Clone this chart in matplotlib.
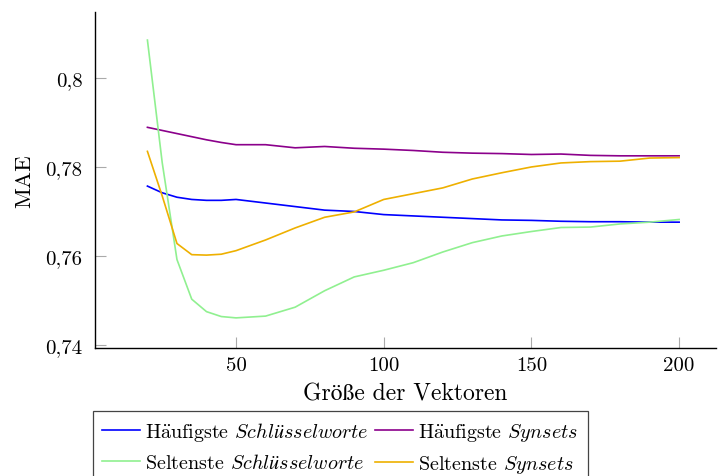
import matplotlib
matplotlib.use('Agg')
import matplotlib.pyplot as plt
from matplotlib.ticker import FuncFormatter

plt.rcParams['font.family'] = ['cmr10', 'STIXGeneral']
plt.rcParams['mathtext.fontset'] = 'cm'
plt.rcParams['axes.unicode_minus'] = False

# Vektorgrößen und MAE-Werte der vier Varianten
groesse = [20, 25, 30, 35, 40, 45, 50, 60, 70, 80, 90, 100, 110, 120, 130, 140, 150, 160, 170, 180, 190, 200]

haeufig_schluessel = [0.7757, 0.7742, 0.7732, 0.7727, 0.7725, 0.7725, 0.7727, 0.7719, 0.7711, 0.7703, 0.7700,
                      0.7693, 0.7690, 0.7687, 0.7684, 0.7681, 0.7680, 0.7678, 0.7677, 0.7677, 0.7676, 0.7676]
haeufig_synsets = [0.7889, 0.7882, 0.7875, 0.7868, 0.7861, 0.7855, 0.7850, 0.7850, 0.7843, 0.7846, 0.7842,
                   0.7840, 0.7837, 0.7833, 0.7831, 0.7830, 0.7828, 0.7829, 0.7826, 0.7825, 0.7825, 0.7825]
selten_schluessel = [0.8085, 0.7810, 0.7592, 0.7503, 0.7475, 0.7464, 0.7461, 0.7465, 0.7485, 0.7522, 0.7553,
                     0.7568, 0.7585, 0.7609, 0.7630, 0.7645, 0.7655, 0.7664, 0.7665, 0.7672, 0.7676, 0.7682]
selten_synsets = [0.7835, 0.7735, 0.7628, 0.7603, 0.7602, 0.7604, 0.7612, 0.7636, 0.7663, 0.7687, 0.7699,
                  0.7727, 0.7740, 0.7753, 0.7773, 0.7787, 0.7800, 0.7809, 0.7812, 0.7813, 0.7820, 0.7821]

# cmr10 hat kein ä, daher als Akzent im Mathemodus
haeufig = r'H$\ddot{\mathrm{a}}$ufigste'

fig = plt.figure(figsize=(7.18, 4.77), dpi=100)
ax = fig.add_axes([0.1323, 0.2683, 0.865, 0.7044])

lw = 1.2
l1, = ax.plot(groesse, haeufig_schluessel, color='#0000ff', lw=lw, label=haeufig + r' $\mathit{Schlüsselworte}$')
l2, = ax.plot(groesse, haeufig_synsets, color='#8b008b', lw=lw, label=haeufig + r' $\mathit{Synsets}$')
l3, = ax.plot(groesse, selten_schluessel, color='#90f090', lw=lw, label=r'Seltenste $\mathit{Schlüsselworte}$')
l4, = ax.plot(groesse, selten_synsets, color='#eeb000', lw=lw, label=r'Seltenste $\mathit{Synsets}$')

ax.set_xlim(2.25, 212.5)
ax.set_ylim(0.73933, 0.8148)
ax.set_xticks([50, 100, 150, 200])
ax.set_yticks([0.74, 0.76, 0.78, 0.8])
ax.yaxis.set_major_formatter(FuncFormatter(lambda v, p: f'{v:g}'.replace('.', ',')))

for s in ['top', 'right']:
    ax.spines[s].set_visible(False)
for s in ['left', 'bottom']:
    ax.spines[s].set_linewidth(1.0)
ax.tick_params(direction='in', length=8, width=0.8, color='#aaaaaa', labelsize=15)
ax.tick_params(axis='y', pad=9)
ax.tick_params(axis='x', pad=6)

ax.set_xlabel('Größe der Vektoren', fontsize=17, labelpad=6)
ax.set_ylabel('MAE', fontsize=16.5, labelpad=8)

# zeilenweise Reihenfolge: erst Häufigste, dann Seltenste
leg = fig.legend([l1, l3, l2, l4], [l.get_label() for l in [l1, l3, l2, l4]],
                 loc='upper left', bbox_to_anchor=(93 / 718, 1 - 412 / 477), ncol=2, fontsize=14.5,
                 frameon=True, fancybox=False, edgecolor='#444444', framealpha=1,
                 handlelength=1.9, handletextpad=0.25, columnspacing=0.3,
                 borderpad=0.45, labelspacing=0.5, borderaxespad=0)
leg.get_frame().set_linewidth(0.9)

fig.savefig('out.png', dpi=100)
